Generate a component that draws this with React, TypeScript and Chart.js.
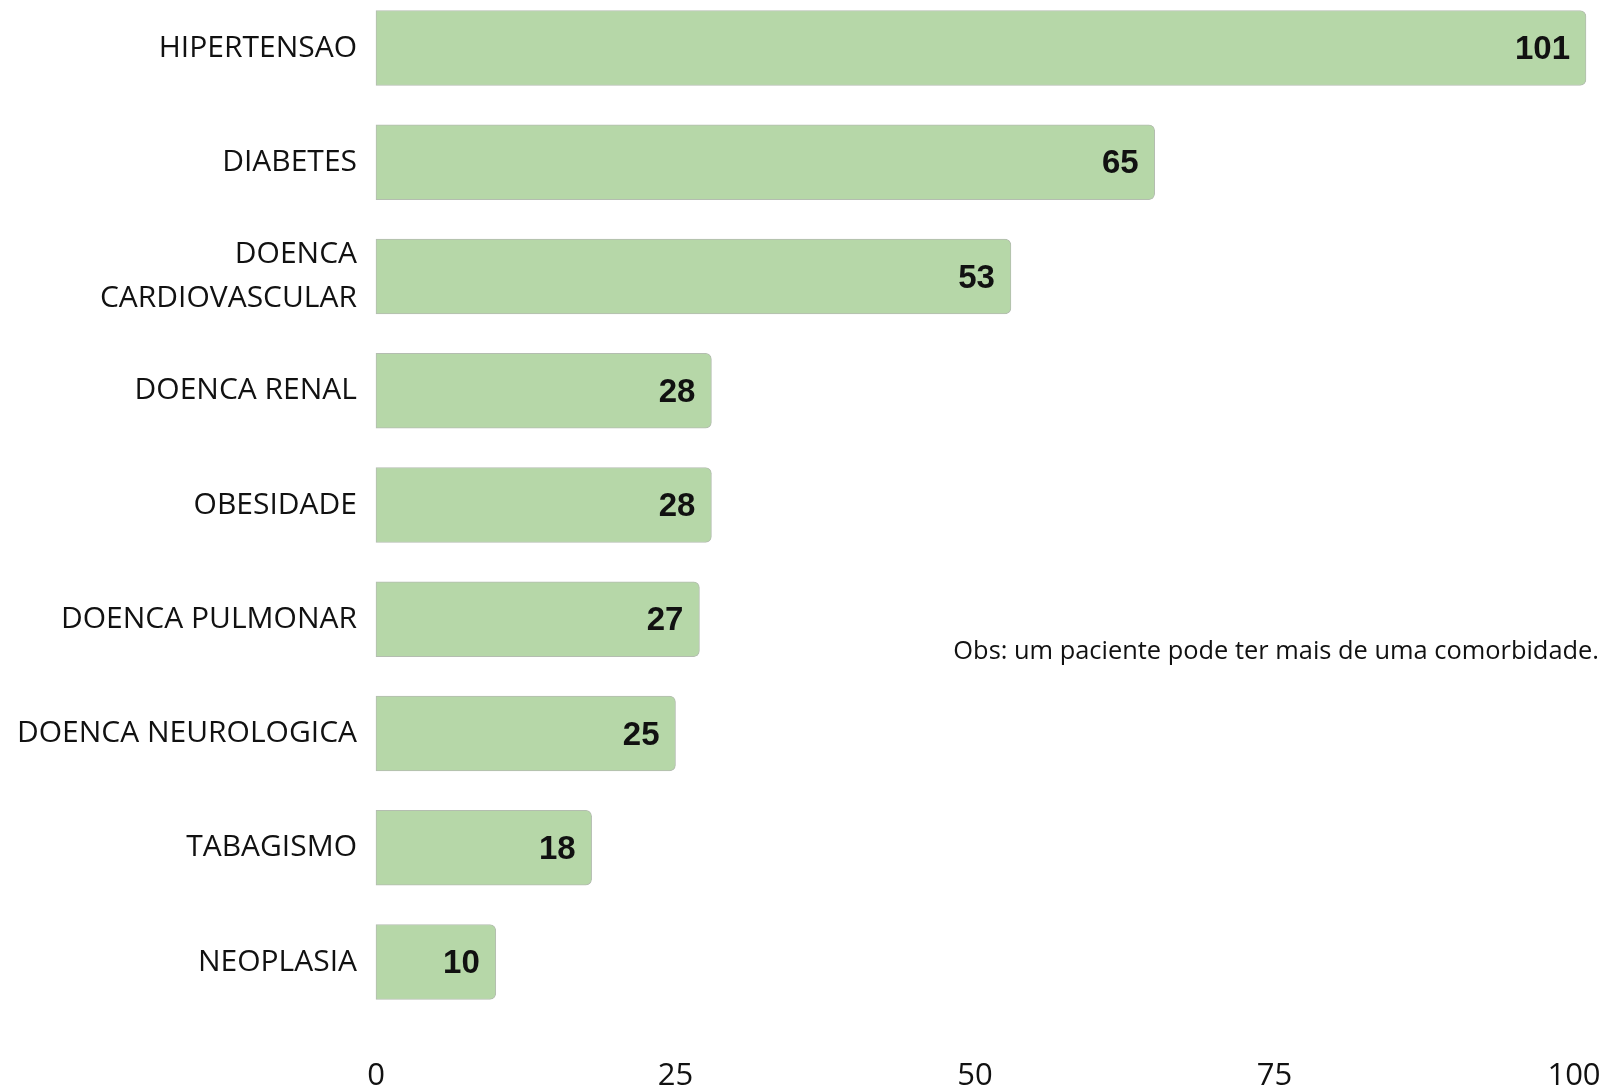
import React, { useEffect, useRef } from "react";
import { Chart, registerables } from "chart.js";

Chart.register(...registerables);

const categories: (string | string[])[] = [
  "HIPERTENSAO",
  "DIABETES",
  ["DOENCA", "CARDIOVASCULAR"],
  "DOENCA RENAL",
  "OBESIDADE",
  "DOENCA PULMONAR",
  "DOENCA NEUROLOGICA",
  "TABAGISMO",
  "NEOPLASIA",
];
const values = [101, 65, 53, 28, 28, 27, 25, 18, 10];
const xTicks = [0, 25, 50, 75, 100];
const noteText = "Obs: um paciente pode ter mais de uma comorbidade.";

const valueLabelPlugin = {
  id: "valueLabels",
  afterDatasetsDraw(chart: any) {
    const ctx = chart.ctx;
    const meta = chart.getDatasetMeta(0);
    ctx.save();
    ctx.font = "bold 33px 'Liberation Sans', Arial, sans-serif";
    ctx.fillStyle = "#111111";
    ctx.textAlign = "right";
    ctx.textBaseline = "middle";
    meta.data.forEach((el: any, i: number) => {
      ctx.fillText(String(values[i]), el.x - 16, el.y + 2);
    });
    ctx.restore();
  },
  afterDraw(chart: any) {
    const ctx = chart.ctx;
    ctx.save();
    const base = 24;
    ctx.font = `${base}px 'Open Sans', sans-serif`;
    const w = ctx.measureText(noteText).width;
    const size = (base * 646) / w;
    ctx.font = `${size}px 'Open Sans', sans-serif`;
    ctx.fillStyle = "#111111";
    ctx.textAlign = "right";
    ctx.textBaseline = "middle";
    ctx.fillText(noteText, 1599, 652);
    ctx.restore();
  },
};

export default function App() {
  const ref = useRef<HTMLCanvasElement>(null);
  useEffect(() => {
    if (!ref.current) return;
    const chart = new Chart(ref.current, {
      type: "bar",
      data: {
        labels: categories,
        datasets: [
          {
            data: values,
            backgroundColor: "#b6d7a8",
            borderColor: "#b4bdb0",
            borderWidth: 1,
            borderSkipped: false,
            borderRadius: { topLeft: 0, bottomLeft: 0, topRight: 6, bottomRight: 6 },
            barThickness: 75,
            clip: false,
          },
        ],
      },
      options: {
        indexAxis: "y",
        responsive: false,
        animation: false,
        layout: { padding: { top: 48, right: 35, left: 0, bottom: 0 } },
        plugins: { legend: { display: false }, tooltip: { enabled: false } },
        scales: {
          y: {
            type: "category",
            offset: false,
            grid: { display: false, drawTicks: false },
            border: { display: false },
            afterFit: (scale: any) => {
              scale.width = 376;
              scale.paddingTop = 0;
              scale.paddingBottom = 0;
              scale.paddingLeft = 0;
              scale.paddingRight = 0;
            },
            ticks: {
              padding: 19,
              color: "#111111",
              font: { family: "'Open Sans', sans-serif", size: 30, lineHeight: 1.45 },
            },
          },
          x: {
            min: 0,
            max: 100,
            afterBuildTicks: (scale: any) => {
              scale.ticks = xTicks.map((v) => ({ value: v }));
            },
            afterFit: (scale: any) => {
              scale.height = 126;
              scale.paddingTop = 0;
              scale.paddingBottom = 0;
              scale.paddingLeft = 0;
              scale.paddingRight = 0;
            },
            grid: { display: false, drawTicks: false },
            border: { display: false },
            ticks: {
              padding: 96,
              color: "#111111",
              maxRotation: 0,
              font: { family: "'Open Sans', sans-serif", size: 31 },
            },
          },
        },
      },
      plugins: [valueLabelPlugin],
    });
    return () => chart.destroy();
  }, []);
  return (
    <div style={{ position: "absolute", left: 0, top: 0, width: 1609, height: 1088, background: "#fff" }}>
      <canvas ref={ref} width={1609} height={1088} />
    </div>
  );
}
